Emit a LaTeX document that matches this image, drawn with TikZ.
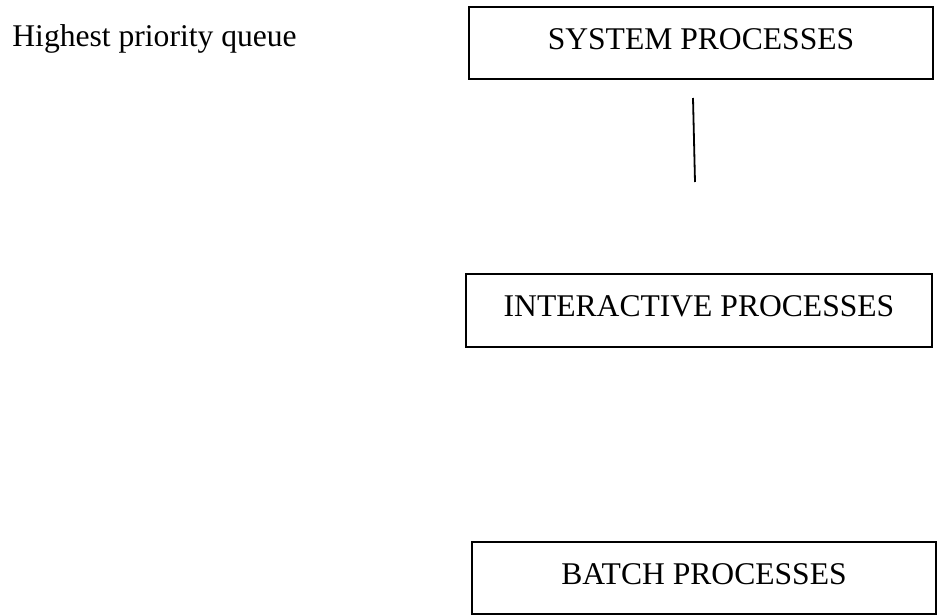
\documentclass[tikz,border=0pt]{standalone}
\usepackage{fontspec}
\setmainfont{Liberation Serif}
\begin{document}
\begin{tikzpicture}[x=0.5pt,y=-0.5pt,
  every node/.style={font=\fontsize{15.8pt}{19pt}\selectfont},
  procbox/.style={rectangle, draw=black, line width=1.2pt, minimum width=232pt, minimum height=36pt, inner sep=0pt, text depth=4.4pt}]
\useasboundingbox (0,0) rectangle (938,616);
\node [anchor=base west, inner sep=0pt] (hpq) at (12,46) {Highest priority queue};
\node [procbox] (sys) at (701,43) {SYSTEM PROCESSES};
\node [procbox, minimum width=233pt, minimum height=36.5pt] (inter) at (699,310.5) {INTERACTIVE PROCESSES};
\node [procbox] (batch) at (704,578) {BATCH PROCESSES};
\coordinate (linetop) at (693,98);
\coordinate (lineend) at (695,182);
\draw [line width=0.9pt] (linetop) -- (lineend);
\end{tikzpicture}
\end{document}
